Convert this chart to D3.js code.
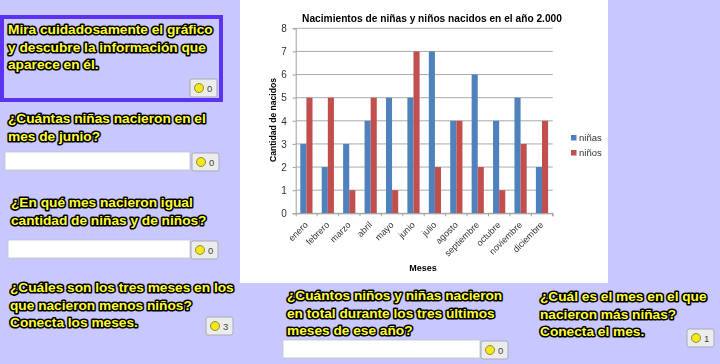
<!DOCTYPE html>
<html>
<head>
<meta charset="utf-8">
<script src="https://cdn.jsdelivr.net/npm/d3@7"></script>
<style>
html, body { margin: 0; padding: 0; background: #c8c8ff; overflow: hidden; }
.q { font: bold 13.7px "Liberation Sans", Arial, sans-serif; fill: #ffff33; stroke: #000; stroke-width: 3.2px; paint-order: stroke; stroke-linejoin: round; }
.chart text { font-family: "Liberation Sans", Arial, sans-serif; }
</style>
</head>
<body>
<script>
const meses = ["enero", "febrero", "marzo", "abril", "mayo", "junio", "julio", "agosto", "septiembre", "octubre", "noviembre", "diciembre"];
const ninas = [3, 2, 3, 4, 5, 5, 7, 4, 6, 4, 5, 2];
const ninos = [5, 5, 1, 5, 1, 7, 2, 4, 2, 1, 3, 4];
const seriesNames = ["niñas", "niños"];
const seriesColors = ["#4f81bd", "#c0504d"];
const yTicks = [0, 1, 2, 3, 4, 5, 6, 7, 8];

const width = 720;
const height = 364;

// chart area inside the white panel
const marginTop = 28.3;
const marginBottom = 213.3;
const marginLeft = 295.7;
const marginRight = 552.7;

const svg = d3.select("body").append("svg")
    .attr("width", width)
    .attr("height", height)
    .style("display", "block");

svg.append("defs").append("filter")
    .attr("id", "soft")
    .append("feGaussianBlur")
    .attr("stdDeviation", 0.5);

svg.append("rect")
    .attr("x", 240).attr("y", 0)
    .attr("width", 368).attr("height", 283)
    .attr("fill", "#fff");

const chart = svg.append("g").attr("class", "chart").attr("filter", "url(#soft)");

const x = d3.scaleBand()
    .domain(meses)
    .range([marginLeft, marginRight])
    .paddingInner(0.43)
    .paddingOuter(0.215);

const xSeries = d3.scaleBand()
    .domain(seriesNames)
    .range([0, x.bandwidth()]);

const y = d3.scaleLinear()
    .domain([0, 8])
    .range([marginBottom, marginTop]);

// gridlines
chart.append("g")
    .selectAll("line")
    .data(yTicks)
    .join("line")
    .attr("x1", marginLeft)
    .attr("x2", marginRight)
    .attr("y1", d => y(d))
    .attr("y2", d => y(d))
    .attr("stroke", "#a0a0a0")
    .attr("stroke-width", 0.9);

// bars
[ninas, ninos].forEach((values, i) => {
    chart.append("g")
        .attr("fill", seriesColors[i])
        .selectAll("rect")
        .data(values)
        .join("rect")
        .attr("x", (d, j) => x(meses[j]) + xSeries(seriesNames[i]))
        .attr("y", d => y(d))
        .attr("width", xSeries.bandwidth())
        .attr("height", d => y(0) - y(d));
});

// y axis
const yAxis = chart.append("g")
    .attr("transform", `translate(${marginLeft},0)`)
    .call(d3.axisLeft(y).tickValues(yTicks).tickSize(3).tickPadding(6).tickFormat(d3.format("d")));
yAxis.selectAll("text").attr("font-size", 10).attr("fill", "#333");
yAxis.selectAll("line,path").attr("stroke", "#a0a0a0");

// x axis, labels turned 45 degrees
const xAxis = chart.append("g")
    .attr("transform", `translate(0,${marginBottom})`)
    .call(d3.axisBottom(x).tickSize(3).tickSizeOuter(3).tickPadding(0));
xAxis.selectAll("line,path").attr("stroke", "#a0a0a0");
xAxis.selectAll(".tick line").attr("transform", `translate(${x.step() / 2},0)`);
xAxis.selectAll("text")
    .attr("font-size", 9)
    .attr("fill", "#333")
    .attr("text-anchor", "end")
    .attr("dy", 0)
    .attr("transform", "translate(0,10) rotate(-45)");

// titles
chart.append("text")
    .attr("x", 432).attr("y", 22)
    .attr("text-anchor", "middle")
    .attr("font-size", 10.2)
    .attr("font-weight", "bold")
    .text("Nacimientos de niñas y niños nacidos en el año 2.000");

chart.append("text")
    .attr("x", 423).attr("y", 271)
    .attr("text-anchor", "middle")
    .attr("font-size", 9)
    .attr("font-weight", "bold")
    .text("Meses");

chart.append("text")
    .attr("transform", "translate(276,120) rotate(-90)")
    .attr("text-anchor", "middle")
    .attr("font-size", 8.6)
    .attr("font-weight", "bold")
    .text("Cantidad de nacidos");

// legend
const legend = chart.append("g")
    .selectAll("g")
    .data(seriesNames)
    .join("g")
    .attr("transform", (d, i) => `translate(571,${138 + i * 15})`);
legend.append("rect")
    .attr("y", -3).attr("width", 5.5).attr("height", 5.5)
    .attr("fill", (d, i) => seriesColors[i]);
legend.append("text")
    .attr("x", 8).attr("y", 3)
    .attr("font-size", 9.5)
    .attr("fill", "#333")
    .text(d => d);

// question panel around the first prompt
svg.append("rect")
    .attr("x", 2).attr("y", 17)
    .attr("width", 219).attr("height", 83)
    .attr("fill", "none")
    .attr("stroke", "#5c33f0")
    .attr("stroke-width", 4);

const prompts = [
    { x: 8, y: 34, lines: ["Mira cuidadosamente el gráfico", "y descubre la información que", "aparece en él."] },
    { x: 8, y: 123, lines: ["¿Cuántas niñas nacieron en el", "mes de junio?"] },
    { x: 11, y: 207, lines: ["¿En qué mes nacieron igual", "cantidad de niñas y de niños?"] },
    { x: 10, y: 292, lines: ["¿Cuáles son los tres meses en los", "que nacieron menos niños?", "Conecta los meses."] },
    { x: 287, y: 300, lines: ["¿Cuántos niños y niñas nacieron", "en total durante los tres últimos", "meses de ese año?"] },
    { x: 540, y: 301, lines: ["¿Cuál es el mes en el que", "nacieron más niñas?", "Conecta el mes."] }
];

prompts.forEach(p => {
    svg.append("text")
        .attr("class", "q")
        .selectAll("tspan")
        .data(p.lines)
        .join("tspan")
        .attr("x", p.x)
        .attr("y", (d, i) => p.y + i * 17.5)
        .text(d => d);
});

// answer fields
const fields = [
    { x: 5, y: 152, w: 185 },
    { x: 8, y: 240, w: 182 },
    { x: 283, y: 340, w: 197 }
];
svg.append("g")
    .selectAll("rect")
    .data(fields)
    .join("rect")
    .attr("x", d => d.x).attr("y", d => d.y)
    .attr("width", d => d.w).attr("height", 18)
    .attr("fill", "#fff")
    .attr("stroke", "#c4c4c4")
    .attr("stroke-width", 0.8);

// counter buttons
const buttons = [
    { x: 190, y: 79, label: "0" },
    { x: 192, y: 153, label: "0" },
    { x: 191, y: 241, label: "0" },
    { x: 206, y: 317, label: "3" },
    { x: 481, y: 341, label: "0" },
    { x: 687, y: 329, label: "1" }
];
const button = svg.append("g")
    .selectAll("g")
    .data(buttons)
    .join("g")
    .attr("transform", d => `translate(${d.x},${d.y})`);
button.append("rect")
    .attr("width", 27).attr("height", 18).attr("rx", 2)
    .attr("fill", "#ececec")
    .attr("stroke", "#a9a9b4");
button.append("circle")
    .attr("cx", 9).attr("cy", 9).attr("r", 4.5)
    .attr("fill", "#f2e81e")
    .attr("stroke", "#77771a")
    .attr("stroke-width", 0.8);
button.append("text")
    .attr("x", 17).attr("y", 12.5)
    .attr("font-family", "Liberation Sans, Arial, sans-serif")
    .attr("font-size", 9.5)
    .attr("fill", "#444")
    .text(d => d.label);
</script>
</body>
</html>
